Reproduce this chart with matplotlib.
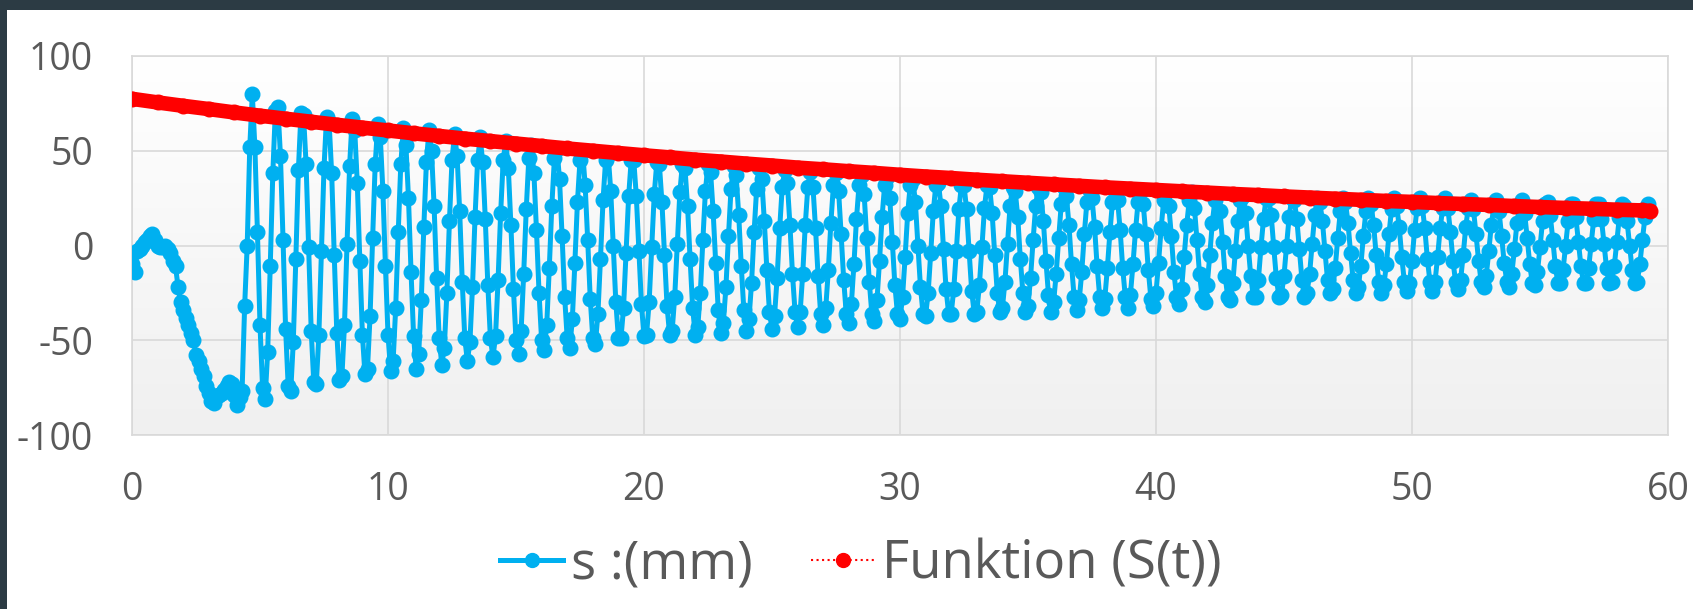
"""
Damped oscillation s(t) with the fitted envelope S(t)
"""

import numpy as np
import matplotlib.pyplot as plt
from matplotlib.colors import LinearSegmentedColormap
from matplotlib.lines import Line2D
from matplotlib.patches import Rectangle

# measured displacement in mm, one sample every 0.1 s
dt = 0.1
s_mm = [
	-10, -14, -3, -2, 0, 2, 3, 5, 6, 3,
	0, -1, -1, 0, -2, -4, -8, -11, -22, -30,
	-34, -38, -42, -46, -50, -58, -61, -65, -69, -74,
	-78, -82, -83, -80, -79, -78, -76, -74, -72, -73,
	-79, -84, -80, -77, -32, 0, 52,
	80, 52, 7, -42, -75, -81, -56, -11, 38, 71,
	73, 47, 3, -44, -74, -77, -51, -7, 40, 70,
	69, 43, -1, -45, -72, -73, -47, -3, 41, 68,
	65, 38, -5, -46, -71, -69, -42, 1, 42, 67,
	61, 33, -8, -47, -68, -65, -37, 4, 43, 64,
	57, 29, -11, -47, -66, -61, -33, 7, 43, 62,
	53, 25, -14, -48, -65, -57, -29, 10, 44, 61,
	50, 21, -17, -49, -63, -54, -25, 13, 45, 59,
	47, 18, -19, -49, -61, -51, -22, 15, 45, 57,
	44, 14, -21, -49, -59, -48, -18, 17, 45, 55,
	41, 11, -23, -50, -57, -45, -15, 19, 46, 53,
	38, 8, -25, -50, -55, -42, -12, 21, 46, 51,
	35, 5, -27, -49, -54, -39, -9, 23, 45, 50,
	32, 3, -28, -49, -52, -36, -7, 24, 45, 48,
	29, 0, -30, -49, -49, -33, -4, 26, 45, 45,
	26, -3, -31, -48, -47, -30, -1, 27, 44, 43,
	23, -5, -32, -47, -45, -27, 1, 28, 43, 41,
	21, -7, -33, -47, -43, -25, 3, 29, 43, 39,
	18, -9, -34, -46, -41, -22, 5, 30, 42, 37,
	16, -11, -34, -45, -39, -20, 7, 30, 41, 35,
	13, -13, -35, -44, -37, -17, 9, 31, 40, 33,
	11, -15, -35, -43, -35, -15, 11, 31, 39, 31,
	9, -16, -36, -42, -33, -13, 12, 32, 38, 29,
	6, -18, -36, -41, -31, -10, 14, 32, 37, 27,
	4, -19, -36, -40, -29, -8, 15, 32, 36, 25,
	2, -21, -36, -39, -27, -6, 17, 32, 35, 23,
	0, -22, -36, -37, -25, -4, 18, 32, 33, 21,
	-2, -23, -36, -36, -23, -3, 19, 32, 32, 19,
	-3, -24, -36, -35, -21, -1, 20, 32, 31, 17,
	-5, -25, -35, -33, -19, 1, 21, 31, 29, 15,
	-7, -25, -35, -32, -17, 3, 21, 31, 28, 13,
	-8, -26, -35, -30, -15, 4, 22, 31, 26, 11,
	-10, -27, -34, -29, -14, 6, 23, 30, 25, 10,
	-11, -27, -33, -28, -12, 7, 23, 29, 24, 8,
	-12, -27, -33, -26, -10, 8, 23, 29, 22, 6,
	-13, -28, -32, -25, -9, 9, 24, 28, 21, 5,
	-14, -27, -31, -23, -6, 11, 24, 28, 20, 3,
	-15, -27, -30, -21, -5, 12, 24, 27, 18, 2,
	-16, -27, -29, -20, -3, 13, 24, 26, 17, 0,
	-16, -27, -27, -18, -1, 14, 25, 25, 16, -1,
	-17, -27, -26, -16, 0, 15, 25, 24, 14, -2,
	-18, -27, -25, -15, 1, 16, 25, 23, 13, -3,
	-18, -25, -23, -12, 4, 18, 25, 23, 12, -4,
	-18, -25, -22, -11, 5, 18, 25, 22, 11, -5,
	-19, -25, -21, -10, 6, 19, 25, 21, 10, -6,
	-19, -24, -20, -8, 8, 20, 25, 21, 9, -7,
	-19, -24, -19, -6, 9, 20, 25, 20, 7, -8,
	-19, -23, -18, -5, 10, 20, 24, 19, 6, -8,
	-19, -22, -16, -3, 11, 21, 24, 18, 5, -9,
	-19, -22, -15, -2, 12, 21, 24, 17, 4, -10,
	-20, -21, -14, -1, 13, 22, 23, 16, 3, -11,
	-20, -20, -13, 0, 13, 22, 22, 15, 2, -11,
	-20, -20, -12, 1, 14, 22, 22, 14, 1, -12,
	-20, -19, -11, 2, 15, 22, 21, 13, 0, -13,
	-20, -19, -10, 3, 15, 22,
]
t_s = np.arange(len(s_mm)) * dt

# envelope S(t)
t_fit = list(range(60)) + [59.3]
s_fit = [
	77.4, 75.5, 73.7, 72.0, 70.2, 68.5, 66.9, 65.3, 63.7, 62.2,
	60.7, 59.2, 57.8, 56.4, 55.1, 53.8, 52.5, 51.2, 50.0, 48.8,
	47.6, 46.5, 45.3, 44.3, 43.2, 42.2, 41.1, 40.2, 39.2, 38.3,
	37.3, 36.4, 35.6, 34.7, 33.9, 33.1, 32.3, 31.5, 30.7, 30.0,
	29.3, 28.6, 27.9, 27.2, 26.6, 25.9, 25.3, 24.7, 24.1, 23.5,
	23.0, 22.4, 21.9, 21.4, 20.8, 20.3, 19.8, 19.4, 18.9, 18.5,
	18.3,
]

x_ticks = [0, 10, 20, 30, 40, 50, 60]
y_ticks = [-100, -50, 0, 50, 100]
labels = ['s :(mm)', 'Funktion (S(t))']

blue = '#00b0f0'
red = '#ff0000'
grey_text = '#595959'
grid_col = '#d9d9d9'

plt.rcParams['font.family'] = ['Open Sans', 'DejaVu Sans']
plt.rcParams['axes.unicode_minus'] = False

fig = plt.figure(figsize=(16.93, 6.09), dpi=100)
fig.patch.set_facecolor('white')
ax = fig.add_axes([132 / 1693, 174 / 609, 1536 / 1693, 379 / 609])

# soft vertical gradient behind the plot
grad = LinearSegmentedColormap.from_list('bg', ['#ffffff', '#f0f0f0'])
ax.imshow(np.linspace(0, 1, 256).reshape(-1, 1), cmap=grad, aspect='auto',
	extent=[0, 60, -100, 100], origin='upper', zorder=-1)

ax.plot(t_s, s_mm, color=blue, lw=3.6, marker='o', ms=10.5, zorder=3)
ax.plot(t_fit, s_fit, color=red, lw=10.5, solid_capstyle='round',
	marker='o', ms=10.5, zorder=4)

ax.set_xlim(0, 60)
ax.set_ylim(-100, 100)
ax.set_xticks(x_ticks)
ax.set_yticks(y_ticks)
ax.set_axisbelow(True)
ax.grid(True, color=grid_col, lw=1.2)
for sp in ax.spines.values():
	sp.set_color(grid_col)
	sp.set_linewidth(1.2)
ax.tick_params(axis='both', length=0, labelsize=27, colors=grey_text)
ax.tick_params(axis='y', pad=28)
ax.tick_params(axis='x', pad=26)

handles = [
	Line2D([], [], color=blue, lw=3.6, marker='o', ms=10),
	Line2D([], [], color=red, lw=1.5, ls=':', marker='o', ms=10),
]
fig.legend(handles, labels, loc='center', bbox_to_anchor=(0.5086, 0.072),
	ncol=2, frameon=False, fontsize=38, labelcolor=grey_text,
	handlelength=1.2, handletextpad=0.15, columnspacing=1.1, borderpad=0)

# dark frame along the top and left edge
frame = '#2c3b44'
fig.add_artist(Rectangle((0, 1 - 9.5 / 609), 1, 9.5 / 609,
	transform=fig.transFigure, color=frame, lw=0))
fig.add_artist(Rectangle((0, 0), 7 / 1693, 1,
	transform=fig.transFigure, color=frame, lw=0))

fig.savefig('out.png', dpi=100)
